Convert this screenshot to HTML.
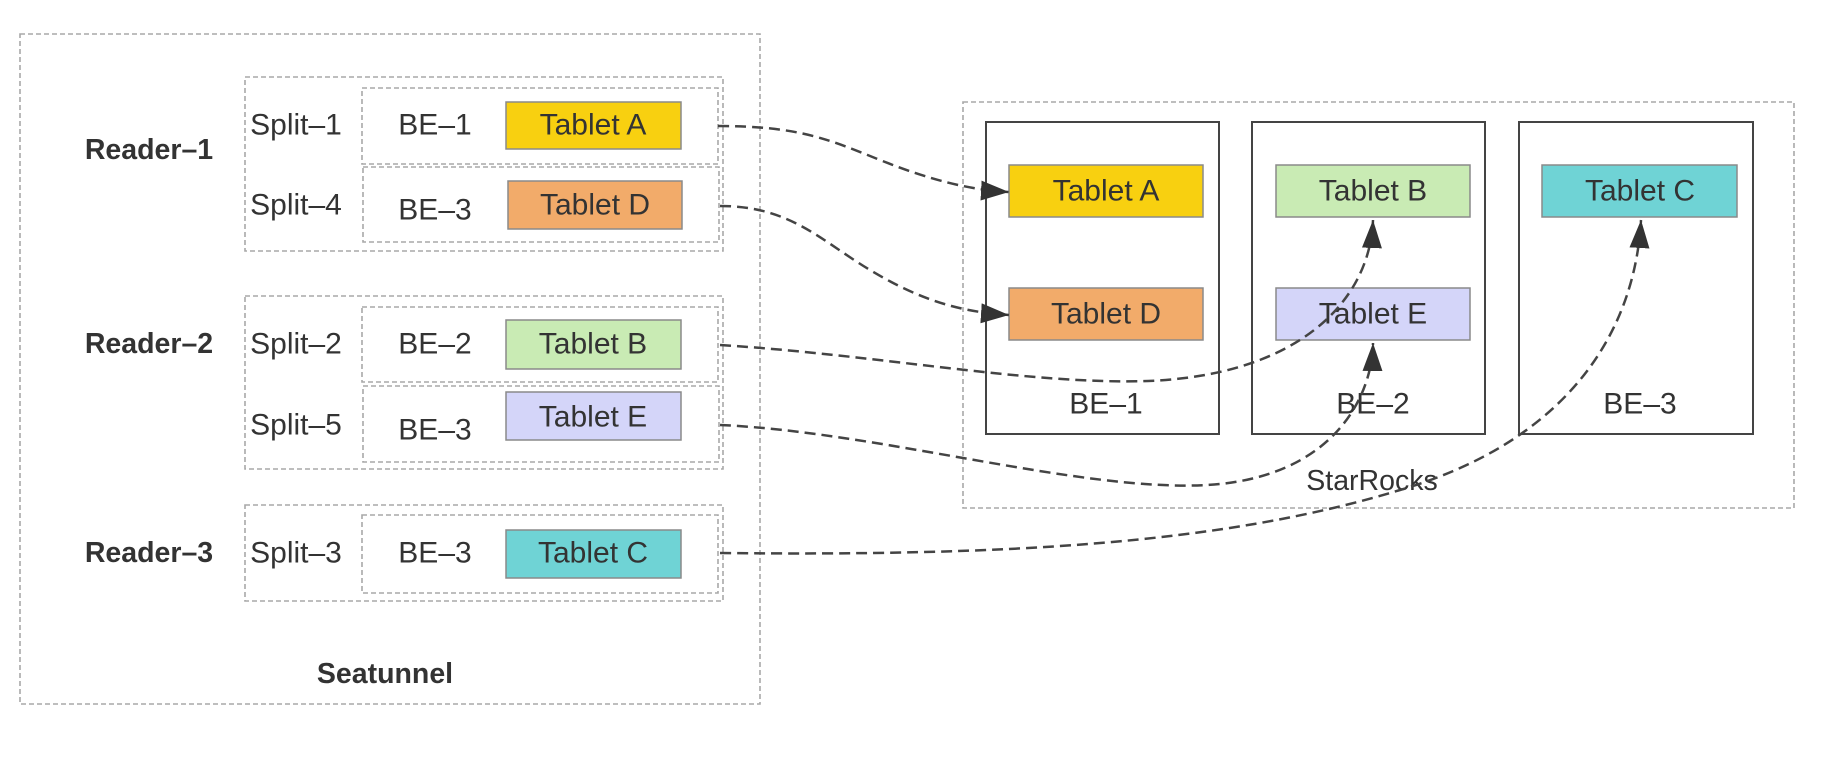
<!DOCTYPE html>
<html><head><meta charset="utf-8"><style>
html,body{margin:0;padding:0;background:#fff;}
svg{display:block;}
text{font-family:"Liberation Sans",sans-serif;fill:#333;}
</style></head><body>
<svg width="1830" height="766" viewBox="0 0 1830 766" xmlns="http://www.w3.org/2000/svg">
<defs>
<marker id="ah" markerWidth="28" markerHeight="20" refX="28" refY="10" orient="auto" markerUnits="userSpaceOnUse">
<path d="M0,0 L28,10 L0,20 Z" fill="#333"/>
</marker>
</defs>
<g fill="none" stroke="#a8a8a8" stroke-width="1.6" stroke-dasharray="5,3">
<rect x="20" y="34" width="740" height="670"/>
<rect x="245" y="77" width="478" height="174"/>
<rect x="362" y="88" width="356" height="76"/>
<rect x="363" y="167" width="356" height="75"/>
<rect x="245" y="296" width="478" height="173"/>
<rect x="362" y="307" width="356" height="75"/>
<rect x="363" y="386" width="356" height="76"/>
<rect x="245" y="505" width="478" height="96"/>
<rect x="362" y="515" width="356" height="78"/>
<rect x="963" y="102" width="831" height="406"/>
</g>
<g stroke="#8a8a8a" stroke-width="1.5">
<rect x="506" y="102" width="175" height="47" fill="#f8d010"/>
<rect x="508" y="181" width="174" height="48" fill="#f2ab6a"/>
<rect x="506" y="320" width="175" height="49" fill="#c9ebb4"/>
<rect x="506" y="392" width="175" height="48" fill="#d4d5f9"/>
<rect x="506" y="530" width="175" height="48" fill="#6fd3d5"/>
</g>
<g fill="none" stroke="#444" stroke-width="2">
<rect x="986" y="122" width="233" height="312"/>
<rect x="1252" y="122" width="233" height="312"/>
<rect x="1519" y="122" width="234" height="312"/>
</g>
<g stroke="#8a8a8a" stroke-width="1.5">
<rect x="1009" y="165" width="194" height="52" fill="#f8d010"/>
<rect x="1009" y="288" width="194" height="52" fill="#f2ab6a"/>
<rect x="1276" y="165" width="194" height="52" fill="#c9ebb4"/>
<rect x="1276" y="288" width="194" height="52" fill="#d4d5f9"/>
<rect x="1542" y="165" width="195" height="52" fill="#6fd3d5"/>
</g>
<g font-size="30" text-anchor="middle" dominant-baseline="central">
<text x="149" y="150" font-weight="bold" font-size="28.5">Reader–1</text>
<text x="149" y="344" font-weight="bold" font-size="28.5">Reader–2</text>
<text x="149" y="553" font-weight="bold" font-size="28.5">Reader–3</text>
<text x="296" y="125">Split–1</text>
<text x="296" y="205">Split–4</text>
<text x="296" y="344">Split–2</text>
<text x="296" y="425">Split–5</text>
<text x="296" y="553">Split–3</text>
<text x="435" y="125">BE–1</text>
<text x="435" y="210">BE–3</text>
<text x="435" y="344">BE–2</text>
<text x="435" y="430">BE–3</text>
<text x="435" y="553">BE–3</text>
<text x="593" y="125">Tablet A</text>
<text x="595" y="205">Tablet D</text>
<text x="593" y="344">Tablet B</text>
<text x="593" y="417">Tablet E</text>
<text x="593" y="553">Tablet C</text>
<text x="385" y="674" font-weight="bold" font-size="28.5">Seatunnel</text>
<text x="1106" y="191">Tablet A</text>
<text x="1106" y="314">Tablet D</text>
<text x="1373" y="191">Tablet B</text>
<text x="1373" y="314">Tablet E</text>
<text x="1640" y="191">Tablet C</text>
<text x="1106" y="404">BE–1</text>
<text x="1373" y="404">BE–2</text>
<text x="1640" y="404">BE–3</text>
<text x="1372" y="481" font-size="28.5">StarRocks</text>
</g>
<g fill="none" stroke="#444" stroke-width="2.5" stroke-dasharray="11,6" marker-end="url(#ah)">
<path d="M718,126 C800,126 830,140 880,160 C930,180 970,190 1009,192"/>
<path d="M720,206 C790,206 820,240 870,270 C920,300 960,312 1009,315"/>
<path d="M720,345 C880,355 1030,385 1148,381 C1300,375 1370,300 1373,220"/>
<path d="M720,425 C880,432 1080,492 1207,485 C1330,478 1372,400 1373,343"/>
<path d="M720,553 C1000,556 1220,545 1400,490 C1570,440 1635,330 1641,220"/>
</g>
</svg>
</body></html>
